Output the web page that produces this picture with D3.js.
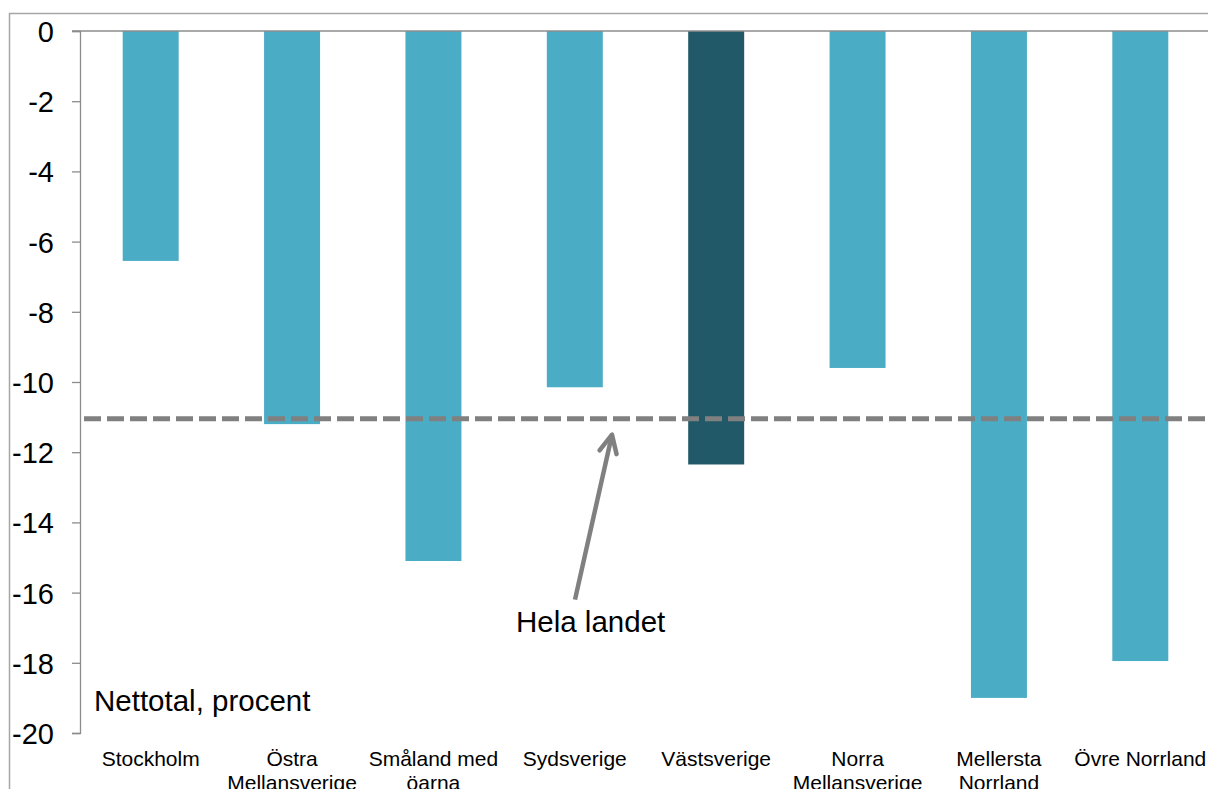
<!DOCTYPE html>
<html><head><meta charset="utf-8">
<script src="https://cdn.jsdelivr.net/npm/d3@7"></script>
<style>html,body{margin:0;padding:0;background:#fff;overflow:hidden}</style>
</head><body>
<svg id="c" width="1208" height="789"></svg>
<script>
const categories = [["Stockholm"],["Östra","Mellansverige"],["Småland med","öarna"],["Sydsverige"],["Västsverige"],["Norra","Mellansverige"],["Mellersta","Norrland"],["Övre Norrland"]];
const values = [-6.55, -11.2, -15.1, -10.15, -12.35, -9.6, -19.0, -17.95];
const highlight = [false,false,false,false,true,false,false,false];
const yTicks = [0,-2,-4,-6,-8,-10,-12,-14,-16,-18,-20];
const national = -11.05;

const svg = d3.select("#c");
const font = "Arial, 'Liberation Sans', sans-serif";
// outer frame
svg.append("rect").attr("x",9.5).attr("y",13.5).attr("width",1300).attr("height",900)
  .attr("fill","none").attr("stroke","#a6a6a6").attr("stroke-width",1.5);

const x = d3.scaleBand().domain(d3.range(categories.length)).range([80,1211]).paddingInner(0.604).paddingOuter(0.302);
const y = d3.scaleLinear().domain([0,-20]).range([31,733]);

// bars
svg.selectAll("rect.bar").data(values).enter().append("rect")
  .attr("x",(d,i)=>x(i)).attr("width",x.bandwidth())
  .attr("y",y(0)).attr("height",d=>y(d)-y(0))
  .attr("fill",(d,i)=>highlight[i]?"#215968":"#4bacc6");

// y axis
const ya = svg.append("g").attr("transform","translate(80,0)")
  .call(d3.axisLeft(y).tickValues(yTicks).tickSize(8).tickPadding(18).tickFormat(d=>d===0?"0":"-"+Math.abs(d)));
ya.select(".domain").attr("stroke","#8c8c8c").attr("stroke-width",1.3);
ya.selectAll(".tick line").attr("stroke","#8c8c8c").attr("stroke-width",1.3);
ya.selectAll(".tick text").attr("font-family",font).attr("font-size",29).attr("fill","#000").attr("dy","0.36em");

// zero line (category axis)
svg.append("line").attr("x1",72).attr("x2",1208).attr("y1",y(0)).attr("y2",y(0))
  .attr("stroke","#8c8c8c").attr("stroke-width",1.5);

// category labels
categories.forEach((lines,i)=>{
  const cx = x(i)+x.bandwidth()/2;
  const t = svg.append("text").attr("x",cx).attr("y",766)
    .attr("text-anchor","middle").attr("font-family",font).attr("font-size",21).attr("fill","#000");
  lines.forEach((l,j)=>t.append("tspan").attr("x",cx).attr("dy",j?24:0).text(l));
});

// national dashed line
svg.append("line").attr("x1",84).attr("x2",1208).attr("y1",y(national)).attr("y2",y(national))
  .attr("stroke","#808080").attr("stroke-width",5).attr("stroke-dasharray","17,6");

// arrow
const ax0 = 575, ay0 = y(-16.2), ax1 = 612, ay1 = y(-11.5);
svg.append("line").attr("x1",ax0).attr("y1",ay0).attr("x2",ax1).attr("y2",ay1)
  .attr("stroke","#808080").attr("stroke-width",4.5);
const ang = Math.atan2(ay1-ay0, ax1-ax0);
const hl = 20, spread = 0.45;
const p1 = [ax1 - hl*Math.cos(ang-spread), ay1 - hl*Math.sin(ang-spread)];
const p2 = [ax1 - hl*Math.cos(ang+spread), ay1 - hl*Math.sin(ang+spread)];
svg.append("path").attr("d",`M${p1[0]},${p1[1]}L${ax1},${ay1}L${p2[0]},${p2[1]}`)
  .attr("fill","none").attr("stroke","#808080").attr("stroke-width",4.5).attr("stroke-linecap","round").attr("stroke-linejoin","round");

svg.append("text").attr("x",516).attr("y",632).attr("font-family",font).attr("font-size",29.5).attr("fill","#000").text("Hela landet");
svg.append("text").attr("x",94).attr("y",711).attr("font-family",font).attr("font-size",29.5).attr("fill","#000").text("Nettotal, procent");
</script>
</body></html>
